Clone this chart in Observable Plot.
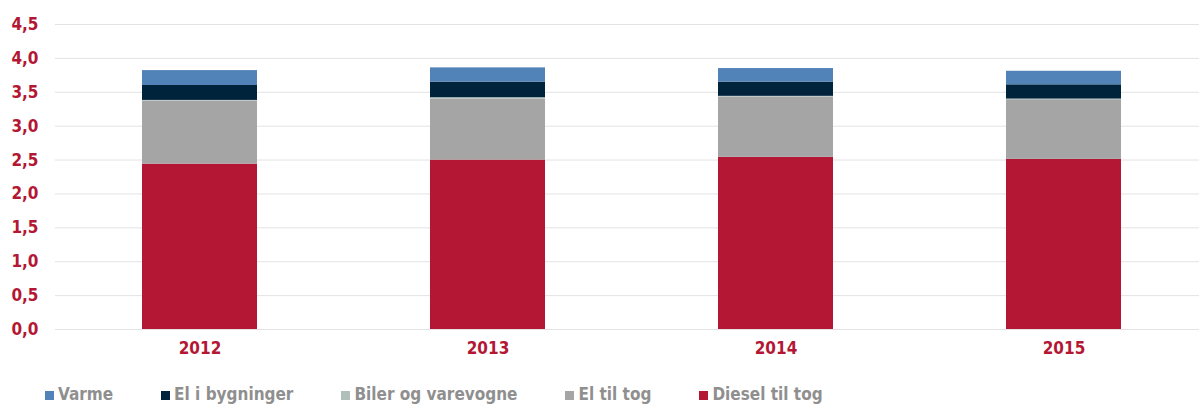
<!DOCTYPE html>
<html>
<head>
<meta charset="utf-8">
<script src="https://cdn.jsdelivr.net/npm/d3@7"></script>
<script src="https://cdn.jsdelivr.net/npm/@observablehq/plot@0.6"></script>
<style>
  html, body { margin: 0; padding: 0; background: #fff; overflow: hidden; width: 1199px; height: 404px; }
  #chart { width: 1199px; overflow: hidden; }
  #chart svg { display: block; max-width: none !important; }
  #legend { display: flex; gap: 48px; padding-left: 45px; margin-top: 14px; font-family: "DejaVu Sans Condensed", "DejaVu Sans", sans-serif; font-weight: bold; font-size: 17px; color: #8f8f8f; }
  .item { display: flex; align-items: center; }
  .sw { width: 9px; height: 9px; margin-right: 4px; margin-top: 3px; }
</style>
</head>
<body>
<div id="chart"></div>
<div id="legend"></div>
<script>
const years = ["2012", "2013", "2014", "2015"];
const series = ["Diesel til tog", "El til tog", "Biler og varevogne", "El i bygninger", "Varme"];
const legendOrder = ["Varme", "El i bygninger", "Biler og varevogne", "El til tog", "Diesel til tog"];
const colors = ["#b31733", "#a5a5a5", "#b0bfb9", "#00233c", "#5283b8"];
const dieselTilTog = [2.44, 2.50, 2.54, 2.51];
const elTilTog = [0.93, 0.90, 0.89, 0.88];
const bilerOgVarevogne = [0.01, 0.02, 0.01, 0.01];
const elIBygninger = [0.22, 0.23, 0.21, 0.21];
const varme = [0.22, 0.21, 0.20, 0.20];
const yTicks = [0, 0.5, 1, 1.5, 2, 2.5, 3, 3.5, 4, 4.5];

const valuesBySeries = [dieselTilTog, elTilTog, bilerOgVarevogne, elIBygninger, varme];
const data = [];
series.forEach((s, i) => years.forEach((y, j) => data.push({year: y, series: s, value: valuesBySeries[i][j]})));

const fmt = d => d3.format(".1f")(d).replace(".", ",");
const red = "#b31733";
const chart = Plot.plot({
  width: 1208,
  height: 370,
  marginLeft: 55,
  marginRight: 0,
  marginTop: 24,
  marginBottom: 41,
  style: { fontFamily: "DejaVu Sans Condensed, DejaVu Sans, sans-serif", fontSize: "17px", fontWeight: "bold", background: "#fff", maxWidth: "none" },
  x: { domain: years, paddingInner: 0.6, paddingOuter: 0.3, label: null, tickSize: 0, tickPadding: 12 },
  y: { domain: [0, 4.5], ticks: yTicks, tickFormat: fmt, label: null, tickSize: 0, tickPadding: 17 },
  color: { domain: series, range: colors },
  marks: [
    Plot.gridY(yTicks, { stroke: "#e3e3e3", strokeOpacity: 1 }),
    Plot.barY(data, Plot.stackY({ order: series }, { x: "year", y: "value", fill: "series" })),
    Plot.axisX({ tickSize: 0, tickPadding: 12, fill: red, fontSize: 17, fontWeight: "bold" }),
    Plot.axisY({ ticks: yTicks, tickFormat: fmt, tickSize: 0, tickPadding: 17, fill: red, fontSize: 17, fontWeight: "bold", label: null })
  ]
});
document.getElementById("chart").appendChild(chart);

const legend = document.getElementById("legend");
legendOrder.forEach(name => {
  const item = document.createElement("div");
  item.className = "item";
  const sw = document.createElement("span");
  sw.className = "sw";
  sw.style.background = colors[series.indexOf(name)];
  const t = document.createElement("span");
  t.textContent = name;
  item.appendChild(sw);
  item.appendChild(t);
  legend.appendChild(item);
});
</script>
</body>
</html>
